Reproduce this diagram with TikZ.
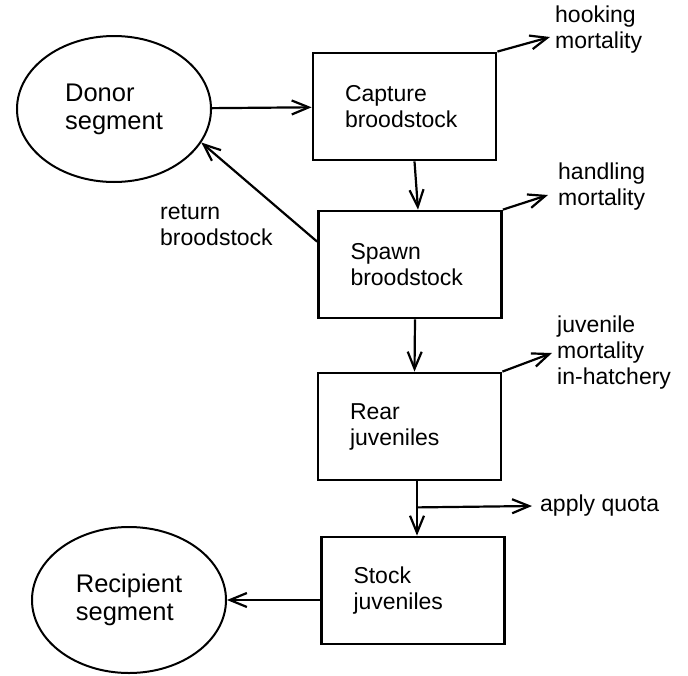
\documentclass[tikz,border=0pt]{standalone}
\usepackage{fontspec}
\setmainfont{Liberation Sans}
\usetikzlibrary{shapes.geometric,arrows.meta}
\begin{document}
\begin{tikzpicture}[x=1pt,y=-1pt,
  every node/.style={font=\fontsize{23}{26}\selectfont},
  box/.style={draw,line width=2.8pt,minimum width=183pt,minimum height=107pt,
    text width=119pt,inner xsep=32pt,align=left},
  seg/.style={draw,ellipse,line width=2pt,minimum width=194pt,minimum height=146pt,
    align=left,font=\fontsize{25.5}{28}\selectfont},
  lab/.style={anchor=west,align=left,inner sep=0pt},
  arr/.style={line width=2.2pt,-{Straight Barb[length=17pt,width=14pt]}}]
\useasboundingbox (0,0) rectangle (688,675);
% ellipses
\node[seg] (donor) at (114,109) {Donor\\segment};
\node[seg] (recip) at (129,600) {Recipient\\segment};
% steps
\node[box] (capture) at (404.5,106.5) {Capture\\broodstock};
\node[box] (spawn) at (410,264.5) {Spawn\\broodstock};
\node[box] (rear) at (409.5,426.5) {Rear\\juveniles};
\node[box] (stock) at (413,590.5) {Stock\\juveniles};
% side labels
\node[lab] (hook) at (555,30) {hooking\\mortality};
\node[lab] (handle) at (558,187) {handling\\mortality};
\node[lab] (juv) at (557,353) {juvenile\\mortality\\in-hatchery};
\node[lab] (quota) at (540,506) {apply quota};
\node[lab] (ret) at (160,225) {return\\broodstock};
\coordinate (split) at ([xshift=7.5pt,yshift=-26pt]rear.south);
% arrows
\draw[arr] (donor) -- (capture);
\draw[arr] ([xshift=10pt]capture.south) -- ([xshift=8pt]spawn.north);
\draw[arr] ([xshift=5pt]spawn.south) -- ([xshift=5pt]rear.north);
\draw[arr] ([xshift=7.5pt]rear.south) -- ([xshift=4pt]stock.north);
\draw[arr] (split) -- ([xshift=-8pt]quota.west);
\draw[arr] (stock.west |- recip.east) -- (recip.east);
\draw[arr] ([yshift=-32pt]spawn.north west) -- (donor.-21);
\draw[arr] (capture.north east) -- ([shift={(-5,7)}]hook.west);
\draw[arr] (spawn.north east) -- ([shift={(-10,8)}]handle.west);
\draw[arr] (rear.north east) -- ([shift={(-5,0)}]juv.west);
\end{tikzpicture}
\end{document}
